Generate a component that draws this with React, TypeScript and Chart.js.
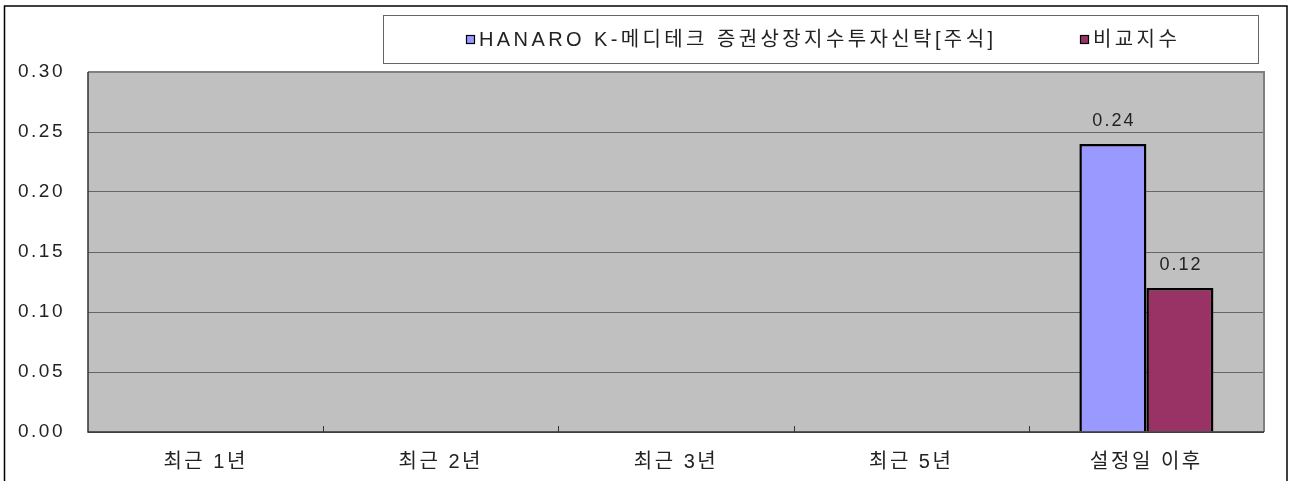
import React, { useEffect, useRef } from "react";
import { Chart, registerables } from "chart.js";

Chart.register(...registerables);

const categories = ["최근 1년", "최근 2년", "최근 3년", "최근 5년", "설정일 이후"];
const fundName = "HANARO K-메디테크 증권상장지수투자신탁[주식]";
const benchName = "비교지수";
const fundValues: (number | null)[] = [null, null, null, null, 0.24];
const benchValues: (number | null)[] = [null, null, null, null, 0.12];
const yTicks = [0, 0.05, 0.1, 0.15, 0.2, 0.25, 0.3];

const FONT = "'Liberation Sans', 'Noto Sans CJK KR', sans-serif";

function spaceLabels(s: any, spacing: string) {
  if (s._spacedPatch) return;
  const orig = s.drawLabels.bind(s);
  s.drawLabels = (area: any) => {
    s.ctx.save();
    s.ctx.letterSpacing = spacing;
    orig(area);
    s.ctx.restore();
  };
  s._spacedPatch = true;
}

const framePlugin = {
  id: "frame",
  beforeDraw(chart: any) {
    const { ctx, chartArea: a } = chart;
    ctx.save();
    ctx.fillStyle = "#ffffff";
    ctx.fillRect(0, 0, chart.width, chart.height);
    // outer border
    ctx.strokeStyle = "#000";
    ctx.lineWidth = 1.5;
    ctx.beginPath();
    ctx.moveTo(4.5, chart.height + 5);
    ctx.lineTo(4.5, 6);
    ctx.lineTo(1287, 6);
    ctx.lineTo(1287, chart.height + 5);
    ctx.stroke();
    // plot background
    ctx.fillStyle = "#c0c0c0";
    ctx.fillRect(a.left, a.top, a.right - a.left, a.bottom - a.top);
    ctx.restore();
  },
  afterDatasetsDraw(chart: any) {
    const { ctx, chartArea: a } = chart;
    ctx.save();
    // top & right gray border
    ctx.strokeStyle = "#808080";
    ctx.lineWidth = 2;
    ctx.beginPath();
    ctx.moveTo(a.left, a.top);
    ctx.lineTo(a.right, a.top);
    ctx.lineTo(a.right, a.bottom);
    ctx.stroke();
    // left & bottom dark border
    ctx.strokeStyle = "#333";
    ctx.lineWidth = 1.5;
    ctx.beginPath();
    ctx.moveTo(a.left, a.top);
    ctx.lineTo(a.left, a.bottom);
    ctx.lineTo(a.right, a.bottom);
    ctx.stroke();
    // inward category tick marks
    const xs = chart.scales.x;
    const n = chart.data.labels.length;
    const w = (a.right - a.left) / n;
    ctx.strokeStyle = "#333";
    ctx.lineWidth = 1;
    for (let i = 1; i < n; i++) {
      const x = Math.round(xs.left + i * w) + 0.5;
      ctx.beginPath();
      ctx.moveTo(x, a.bottom);
      ctx.lineTo(x, a.bottom - 6);
      ctx.stroke();
    }
    // data labels
    ctx.fillStyle = "#222";
    ctx.font = "18px " + FONT;
    ctx.letterSpacing = "2px";
    ctx.textAlign = "center";
    ctx.textBaseline = "bottom";
    chart.data.datasets.forEach((ds: any, di: number) => {
      const meta = chart.getDatasetMeta(di);
      meta.data.forEach((bar: any, i: number) => {
        const v = ds.data[i];
        if (v === null || v === undefined) return;
        ctx.fillText(v.toFixed(2), bar.x + 1, bar.y - 14);
      });
    });
    // legend
    ctx.strokeStyle = "#666";
    ctx.lineWidth = 1;
    ctx.strokeRect(383.5, 15.5, 875, 48);
    ctx.font = "20px " + FONT;
    ctx.letterSpacing = "3.4px";
    ctx.textAlign = "left";
    ctx.textBaseline = "middle";
    const starts = [466, 1080];
    chart.data.datasets.forEach((ds: any, di: number) => {
      const x = starts[di];
      ctx.fillStyle = ds.backgroundColor;
      ctx.fillRect(x, 35, 9, 9);
      ctx.strokeStyle = "#000";
      ctx.lineWidth = 1.2;
      ctx.strokeRect(x + 0.5, 35.5, 8, 8);
      ctx.fillStyle = "#222";
      ctx.fillText(ds.label, x + 13, 40);
    });
    ctx.restore();
  },
};

export default function App() {
  const ref = useRef<HTMLCanvasElement>(null);
  useEffect(() => {
    if (!ref.current) return;
    const chart = new Chart(ref.current, {
      type: "bar",
      data: {
        labels: categories,
        datasets: [
          {
            label: fundName,
            data: fundValues,
            backgroundColor: "#9999ff",
            borderColor: "#000",
            borderWidth: 2.5,
          },
          {
            label: benchName,
            data: benchValues,
            backgroundColor: "#993366",
            borderColor: "#000",
            borderWidth: 2.5,
          },
        ],
      },
      options: {
        responsive: false,
        animation: false,
        events: [],
        layout: { padding: { left: 0, top: 72, right: 25, bottom: 0 } },
        plugins: { legend: { display: false }, tooltip: { enabled: false } },
        datasets: { bar: { categoryPercentage: 0.57, barPercentage: 1 } },
        scales: {
          x: {
            grid: { display: false, drawTicks: false },
            border: { display: false },
            ticks: { color: "#222", font: { size: 20, family: FONT }, padding: 18, maxRotation: 0 },
            afterFit: (s: any) => {
              s.height = 49;
              spaceLabels(s, "2.5px");
            },
          },
          y: {
            min: 0,
            max: 0.3,
            grid: { color: "#666", lineWidth: 1, drawTicks: false },
            border: { display: false },
            afterBuildTicks: (s: any) => {
              s.ticks = yTicks.map((v) => ({ value: v }));
            },
            ticks: {
              color: "#222",
              font: { size: 19, family: FONT },
              padding: 23,
              callback: (v: any) => Number(v).toFixed(2),
            },
            afterFit: (s: any) => {
              s.width = 88;
              spaceLabels(s, "2.5px");
            },
          },
        },
      },
      plugins: [framePlugin],
    });
    return () => chart.destroy();
  }, []);
  return (
    <div style={{ position: "absolute", left: 0, top: 0, width: 1289, height: 481 }}>
      <canvas ref={ref} width={1289} height={481} style={{ width: 1289, height: 481, display: "block" }} />
    </div>
  );
}
